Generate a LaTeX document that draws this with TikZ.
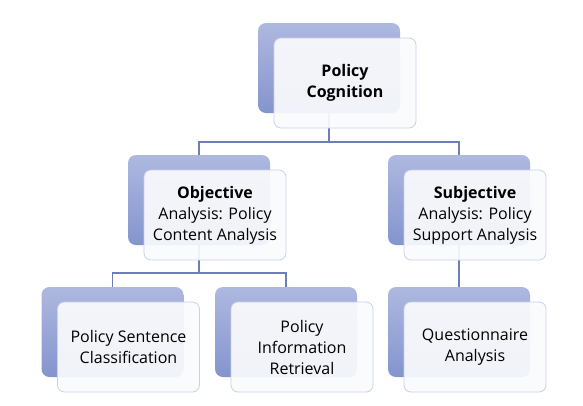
\documentclass[tikz,border=0pt]{standalone}
\usepackage{fontspec}
\setmainfont{Open Sans}
\usetikzlibrary{calc}
\definecolor{cardtop}{HTML}{AEB9E0}
\definecolor{cardbot}{HTML}{8494CD}
\definecolor{frontedge}{HTML}{C9D0E8}
\definecolor{frontfill}{HTML}{FAFBFD}
\definecolor{linec}{HTML}{6C7DB9}
\tikzset{
  backcard/.style={rounded corners=8pt, minimum width=142pt, minimum height=90pt,
    top color=cardtop, bottom color=cardbot, draw=none, inner sep=0pt},
  frontcard/.style={rounded corners=7pt, minimum width=142pt, minimum height=90pt,
    draw=frontedge, line width=0.8pt, fill=frontfill, fill opacity=0.92, text opacity=1,
    align=center, inner sep=0pt, font=\fontsize{16pt}{21pt}\selectfont, text=black},
  conn/.style={draw=linec, line width=1.1pt},
}
\begin{document}
\begin{tikzpicture}[x=1pt,y=-1pt]
\useasboundingbox (0,0) rectangle (583,405);
% back cards
\node[backcard] (pcb) at (329,68) {};
\node[backcard] (obb) at (199,200) {};
\node[backcard] (sbb) at (459,200) {};
\node[backcard] (scb) at (112.5,332) {};
\node[backcard] (irb) at (286,332) {};
\node[backcard] (qab) at (459,332) {};
% bus coordinates
\coordinate (bus1) at (0,142);
\coordinate (bus2) at (0,273);
% connectors
\draw[conn] (pcb.south) -- (pcb.south |- bus1) -| (obb.north);
\draw[conn] (pcb.south |- bus1) -| (sbb.north);
\draw[conn] (obb.south) -- (obb.south |- bus2) -| (scb.north);
\draw[conn] (obb.south |- bus2) -| (irb.north);
\draw[conn] (sbb.south) -- (qab.north);
% front cards
\node[frontcard] (pcf) at ($(pcb)+(16,15)$) {\textbf{Policy}\\\textbf{Cognition}};
\node[frontcard] (obf) at ($(obb)+(16,15)$) {\textbf{Objective}\\Analysis: Policy\\Content Analysis};
\node[frontcard] (sbf) at ($(sbb)+(16,15)$) {\textbf{Subjective}\\Analysis: Policy\\Support Analysis};
\node[frontcard] (scf) at ($(scb)+(16,15)$) {Policy Sentence\\Classification};
\node[frontcard] (irf) at ($(irb)+(16,15)$) {Policy\\Information\\Retrieval};
\node[frontcard] (qaf) at ($(qab)+(16,15)$) {Questionnaire\\Analysis};
\end{tikzpicture}
\end{document}
